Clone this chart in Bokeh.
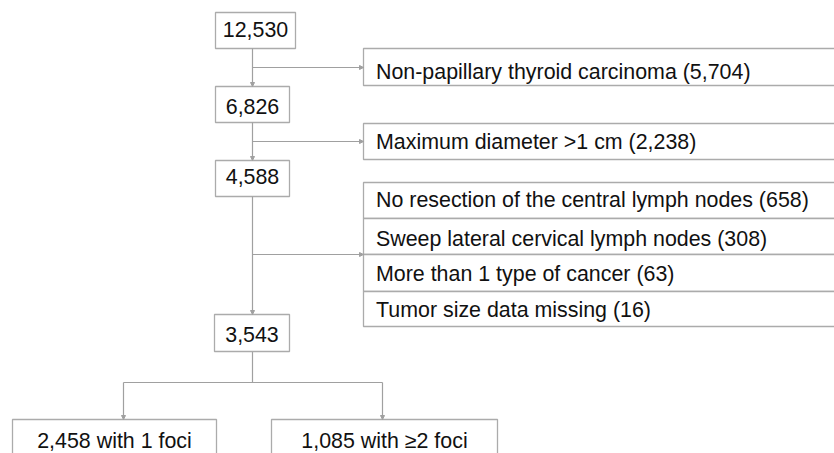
from bokeh.plotting import figure
from bokeh.models import Range1d, Arrow, NormalHead
from bokeh.core.properties import value
from bokeh.embed import file_html
from bokeh.resources import INLINE

# ---- data (texts of the flow chart) ----
main_counts = ["12,530", "6,826", "4,588", "3,543"]
exclusions = [
    "Non-papillary thyroid carcinoma (5,704)",
    "Maximum diameter >1 cm (2,238)",
    "No resection of the central lymph nodes (658)",
    "Sweep lateral cervical lymph nodes (308)",
    "More than 1 type of cancer (63)",
    "Tumor size data missing (16)",
]
outcomes = ["2,458 with 1 foci", "1,085 with \u22652 foci"]

# ---- layout (page pixel coordinates) ----
main_left = [215, 215, 215, 214]
main_right = [295, 289, 289, 289]
main_top = [12, 86, 160, 314]
main_bottom = [48, 122, 196, 351]
main_base = [29, 106, 175.5, 334]

ex_left = 363
ex_right = 900
ex_top = [48, 123, 182, 218, 254, 291]
ex_bottom = [85, 159, 218, 254, 291, 326]
ex_base = [71, 141, 199, 238, 273, 309]

out_left = [12, 271]
out_right = [216, 497]
out_top = [419, 419]
out_bottom = [480, 480]
out_base = [440, 440]

FONT = value("Liberation Sans")
FS = value("21.4px")
BOX_LINE = "#ababab"
CONN = "#a0a0a0"
TXT = "#111111"

p = figure(width=834, height=453, output_backend="svg", toolbar_location=None,
           x_range=Range1d(0, 834), y_range=Range1d(453, 0),
           min_border=0, outline_line_color=None)
p.axis.visible = False
p.grid.visible = False
p.background_fill_color = "white"
p.border_fill_color = "white"

cx = 252
# plain connector lines
p.segment(x0=[cx, 123], y0=[351, 382], x1=[cx, 382], y1=[382, 382],
          line_color=CONN, line_width=1.2)

# arrows
arrows = [
    (cx, 48, cx, 86), (cx, 122, cx, 160), (cx, 196, cx, 314),
    (cx, 67, ex_left, 67), (cx, 141, ex_left, 141), (cx, 254, ex_left, 254),
    (123, 382, 123, 419), (382, 382, 382, 419),
]
for x0, y0, x1, y1 in arrows:
    p.add_layout(Arrow(x_start=x0, y_start=y0, x_end=x1, y_end=y1,
                       line_color=CONN, line_width=1.2,
                       end=NormalHead(size=4, fill_color=CONN, line_color=CONN, line_width=1)))

# boxes
p.quad(left=main_left, right=main_right, top=main_top, bottom=main_bottom,
       fill_color="white", line_color=BOX_LINE, line_width=1.3)
p.quad(left=[ex_left] * len(exclusions), right=[ex_right] * len(exclusions),
       top=ex_top, bottom=ex_bottom,
       fill_color="white", line_color=BOX_LINE, line_width=1.3)
p.quad(left=out_left, right=out_right, top=out_top, bottom=out_bottom,
       fill_color="white", line_color=BOX_LINE, line_width=1.3)

# texts
mx = [(l + r) / 2 for l, r in zip(main_left, main_right)]
p.text(x=mx, y=main_base, text=main_counts, text_font=FONT, text_font_size=FS,
       text_align="center", text_baseline="alphabetic", text_color=TXT)
p.text(x=[375.5] * len(exclusions), y=ex_base, text=exclusions, text_font=FONT,
       text_font_size=FS, text_align="left", text_baseline="alphabetic", text_color=TXT)
ox = [(l + r) / 2 for l, r in zip(out_left, out_right)]
p.text(x=ox, y=out_base, text=outcomes, text_font=FONT, text_font_size=FS,
       text_align="center", text_baseline="alphabetic", text_color=TXT)

open("out.html", "w").write(file_html(p, INLINE))
